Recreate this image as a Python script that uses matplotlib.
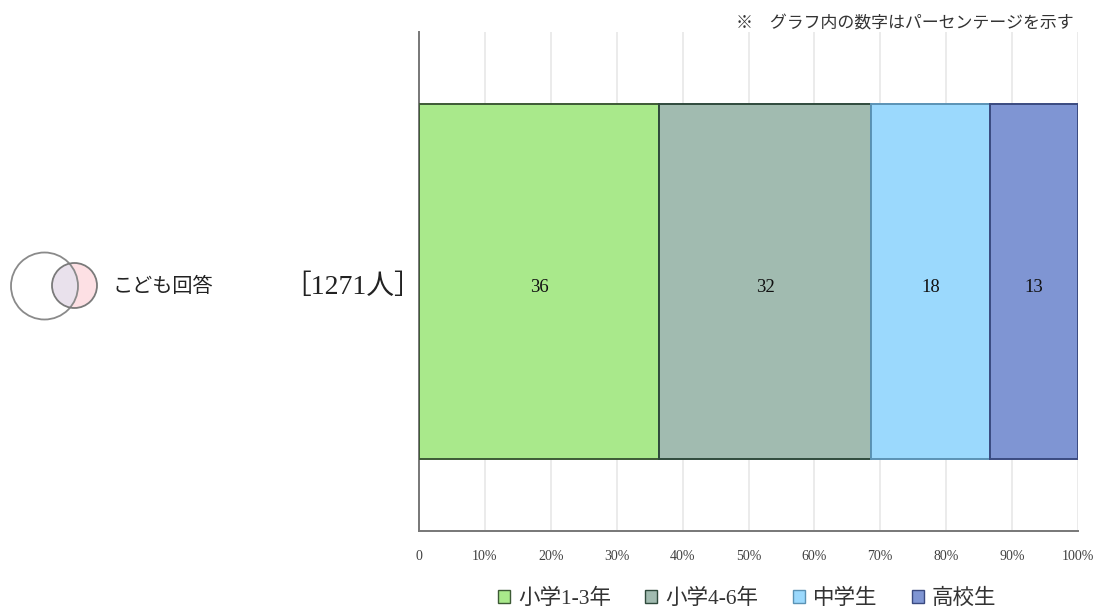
import matplotlib
matplotlib.use("Agg")
import matplotlib.pyplot as plt
from matplotlib.patches import Circle

W, H = 1095, 608
SERIF = ['Liberation Serif', 'Noto Sans CJK JP', 'DejaVu Sans']
SANS = ['Noto Sans CJK JP', 'DejaVu Sans']

categories = ['小学1-3年', '小学4-6年', '中学生', '高校生']
values = [36.4, 32.2, 18.1, 13.3]
value_labels = ['36', '32', '18', '13']
colors = ['#a9e98b', '#a1bbb0', '#9bd9fd', '#7f95d3']
edges = ['#3d5a35', '#2f4a3c', '#5b93b5', '#3a4a80']
ticks = list(range(0, 101, 10))
tick_labels = ['0'] + [f'{t}%' for t in ticks[1:]]
row_label = 'こども回答'
count_label = '［1271人］'
note = '※　グラフ内の数字はパーセンテージを示す'

fig = plt.figure(figsize=(W / 100, H / 100), dpi=100, facecolor='white')

# full-figure pixel canvas for the Venn icon
bg = fig.add_axes([0, 0, 1, 1])
bg.set_xlim(0, W)
bg.set_ylim(H, 0)
bg.axis('off')
big = Circle((44.5, 286), 33.5, fc='white', ec='none')
small = Circle((74.5, 285.5), 22.5, fc='#fde0e4', ec='none')
bg.add_patch(big)
bg.add_patch(small)
overlap = Circle((74.5, 285.5), 22.5, fc='#e9e1ec', ec='none')
bg.add_patch(overlap)
overlap.set_clip_path(Circle((44.5, 286), 33.5, transform=bg.transData))
bg.add_patch(Circle((44.5, 286), 33.5, fc='none', ec='#8a8a8a', lw=1.3))
bg.add_patch(Circle((74.5, 285.5), 22.5, fc='none', ec='#7a7a7a', lw=1.3))
bg.text(113, 286, row_label, fontsize=14.5, family=SANS, color='#222222', va='center', ha='left')
bg.text(422, 287, count_label, fontsize=20, family=SERIF, color='#222222', va='center', ha='right')
bg.text(1074, 24, note, fontsize=12.2, family=SERIF, color='#333333', va='center', ha='right')

# chart
L, R, T, B = 419, 1078, 32, 531
ax = fig.add_axes([L / W, 1 - B / H, (R - L) / W, (B - T) / H])
ax.patch.set_alpha(0)
ax.set_xlim(0, 100)
ax.set_ylim(-0.5, 0.5)
left = 0
for cat, val, lab, c, e in zip(categories, values, value_labels, colors, edges):
    ax.barh(0, val, left=left, height=0.713, color=c, edgecolor=e, linewidth=1.4, label=cat, zorder=3)
    ax.text(left + val / 2, -0.012, lab, ha='center', va='center', fontsize=13.5, family=SERIF, color='#111111', zorder=4)
    left += val

ax.set_xticks(ticks)
ax.set_xticklabels(tick_labels, family=SERIF, fontsize=10, color='#404040')
ax.set_yticks([])
ax.tick_params(axis='x', length=0, pad=14)
ax.grid(axis='x', color='#e6e6e6', lw=1.1, zorder=0)
ax.set_axisbelow(True)
for s in ('top', 'right'):
    ax.spines[s].set_visible(False)
for s in ('left', 'bottom'):
    ax.spines[s].set_color('#777777')
    ax.spines[s].set_linewidth(1.4)

leg = fig.legend(loc='center', bbox_to_anchor=(747 / W, 1 - 599 / H), ncol=4, frameon=False,
                 prop={'family': SERIF, 'size': 15.5}, handlelength=0.55, handleheight=0.55,
                 handletextpad=0.38, columnspacing=1.6, borderpad=0)
for t in leg.get_texts():
    t.set_color('#333333')
for h in leg.legend_handles:
    h.set_linewidth(1.0)

fig.savefig('out.png', dpi=100, facecolor='white')
